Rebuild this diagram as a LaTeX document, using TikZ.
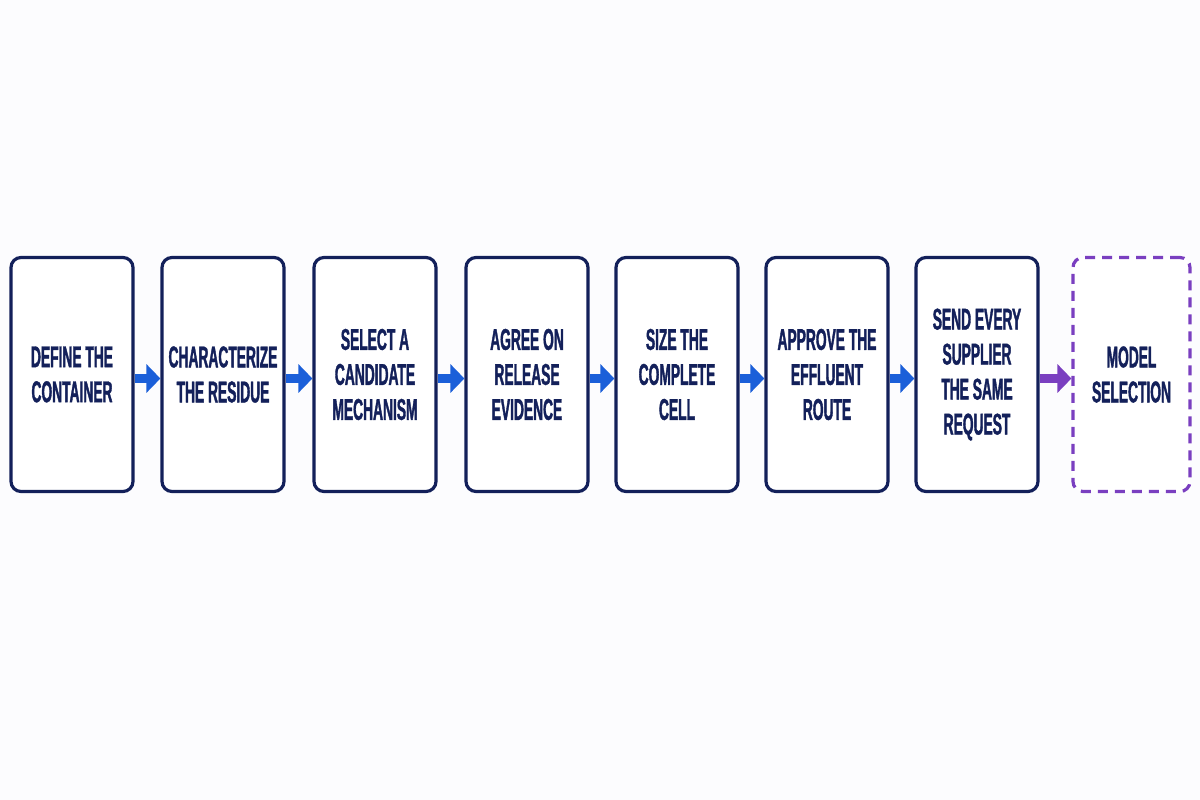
\documentclass[tikz,border=0pt]{standalone}
\usepackage{fontspec}
\setmainfont{Liberation Sans}[FakeStretch=0.46,BoldFeatures={FakeBold=1.2}]
\usetikzlibrary{arrows.meta}
\definecolor{navy}{HTML}{13205A}
\definecolor{flowblue}{HTML}{1B5FD9}
\definecolor{flowpurple}{HTML}{7A3FC0}
\definecolor{bg}{HTML}{FCFCFE}
\begin{document}
\begin{tikzpicture}[x=1pt,y=-1pt,
  stage/.style={draw=navy,line width=3.2pt,rounded corners=10pt,fill=white,
    minimum width=122pt,minimum height=234pt,inner sep=0pt,
    text=navy,align=center,font=\fontsize{30}{35}\selectfont\bfseries},
  goal/.style={stage,draw=flowpurple,dash pattern=on 10pt off 7pt,minimum width=117pt},
  flow/.style={draw=flowblue,line width=9pt,-{Triangle[length=14pt,width=28pt]}},
  flowp/.style={flow,draw=flowpurple}]
\fill[bg] (0,0) rectangle (1200,800);
\useasboundingbox (0,0) rectangle (1200,800);
\node[stage] (b1) at (72,374.5) {DEFINE THE\\CONTAINER};
\node[stage] (b2) at (223,374.5) {CHARACTERIZE\\THE RESIDUE};
\node[stage] (b3) at (375,374.5) {SELECT A\\CANDIDATE\\MECHANISM};
\node[stage] (b4) at (527,374.5) {AGREE ON\\RELEASE\\EVIDENCE};
\node[stage] (b5) at (677,374.5) {SIZE THE\\COMPLETE\\CELL};
\node[stage] (b6) at (827,374.5) {APPROVE THE\\EFFLUENT\\ROUTE};
\node[stage] (b7) at (977,374.5) {SEND EVERY\\SUPPLIER\\THE SAME\\REQUEST};
\node[goal] (b8) at (1131.5,374.5) {MODEL\\SELECTION};
\foreach \a/\b in {b1/b2,b2/b3,b3/b4,b4/b5,b5/b6,b6/b7}
  \draw[flow] ([yshift=-4pt]\a.east) -- ([yshift=-4pt]\b.west);
\draw[flowp] ([yshift=-4pt]b7.east) -- ([yshift=-4pt]b8.west);
\end{tikzpicture}
\end{document}
